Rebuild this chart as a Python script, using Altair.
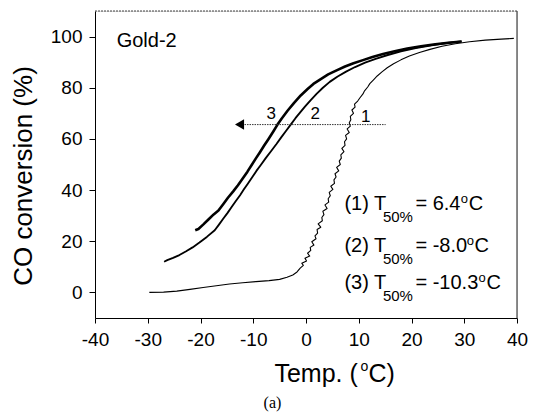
import altair as alt
import pandas as pd

# ---- data ----
c1_x = [-29.7, -27.0, -24.5, -22.0, -19.5, -17.0, -14.5, -12.0, -9.5, -7.0, -5.0, -3.6, -2.5, -1.7,
        -1.1, -0.5, -0.8, 0.1, -0.2, 0.7, 0.3, 0.9, 0.8, 1.5, 1.1, 1.9, 1.7, 2.2, 2.1, 2.8, 2.3, 3.1,
        3.0, 3.4, 3.2, 4.0, 3.6, 4.3, 4.2, 4.6, 4.4, 5.1, 4.7, 5.4, 5.3, 5.7, 5.5, 6.2, 5.8, 6.5, 6.3,
        6.7, 6.6, 7.2, 6.8, 7.4, 7.3, 7.7, 7.5, 8.2, 7.8, 8.4, 8.2, 8.5, 8.4, 9.0, 8.7, 9.3, 9.2, 9.8,
        10.2, 10.8, 11.1, 11.7, 12.1, 12.8, 13.5, 14.4, 15.4, 16.6, 18.0, 19.6, 21.5, 23.5, 25.8,
        28.3, 31.0, 34.0, 37.0, 39.4]
c1_y = [0.0, 0.1, 0.5, 1.2, 1.9, 2.6, 3.3, 3.8, 4.2, 4.6, 5.1, 5.9, 6.8, 8.0,
        9.5, 10.6, 11.4, 12.3, 13.4, 14.2, 15.3, 16.4, 17.6, 18.5, 19.8, 21.0, 22.1, 23.2, 24.6, 25.5,
        26.8, 28.0, 29.3, 30.4, 31.7, 32.8, 34.2, 35.3, 36.6, 37.8, 39.1, 40.3, 41.5, 42.6, 44.0, 45.1,
        46.4, 47.5, 48.9, 50.0, 51.3, 52.5, 53.8, 55.0, 56.3, 57.5, 58.9, 60.0, 61.4, 62.5, 63.9, 65.0,
        66.3, 67.5, 68.8, 70.0, 71.3, 72.4, 73.6, 74.8,
        76.0, 77.6, 78.8, 80.3, 81.6, 83.1, 84.6, 86.2, 87.8, 89.4, 90.9, 92.4, 93.8, 95.0, 96.2,
        97.2, 98.0, 98.6, 99.0, 99.3]

c2_x = [-26.9, -26.3, -25.2, -24.0, -22.8, -21.5, -20.2, -18.8, -17.3, -16.5, -15.7, -14.9, -14.1,
        -13.3, -12.5, -11.8, -11.0, -10.2, -9.4, -8.5, -7.6, -6.6, -5.6, -4.7, -3.8, -2.9, -2.0, -1.1,
        -0.2, 0.9, 2.0, 3.2, 4.5, 6.0, 7.6, 9.3, 11.2, 13.2, 15.5, 18.0, 20.8, 23.8, 26.8, 29.5]
c2_y = [12.0, 12.6, 13.5, 14.6, 16.0, 17.6, 19.5, 21.7, 24.3, 26.5, 28.8, 31.0, 33.4, 35.7, 38.0,
        40.2, 42.6, 45.0, 47.5, 50.0, 52.6, 55.3, 58.0, 60.6, 63.1, 65.6, 68.1, 70.4, 72.6, 75.2,
        77.6, 80.0, 82.3, 84.4, 86.3, 88.1, 89.8, 91.3, 92.8, 94.2, 95.5, 96.6, 97.5, 98.1]

c3_x = [-21.0, -20.4, -19.5, -18.5, -17.5, -16.6, -15.7, -14.8, -13.8, -12.9, -12.0, -11.1, -10.3,
        -9.5, -8.7, -7.9, -7.1, -6.2, -5.4, -4.6, -3.5, -2.3, -1.0, 0.3, 1.4, 2.8, 4.2, 5.8, 7.4, 9.0,
        10.8, 12.6, 14.6, 16.8, 19.2, 21.8, 24.5, 27.0, 29.5]
c3_y = [24.3, 24.8, 26.5, 28.5, 30.5, 32.0, 34.5, 37.0, 39.5, 41.9, 44.5, 47.2, 49.8, 52.4, 54.9,
        57.5, 60.0, 62.9, 65.6, 68.0, 71.0, 74.0, 77.0, 79.5, 81.5, 83.4, 85.2, 86.8, 88.3, 89.6,
        90.8, 92.0, 93.2, 94.3, 95.3, 96.2, 97.0, 97.6, 98.1]

curve_names = ["1", "2", "3"]
curve_widths = [1.1, 2.6, 2.6]

t50_labels = ["(1) T", "(2) T", "(3) T"]
t50_values = ["= 6.4", "= -8.0", "= -10.3"]
guide_y = 65.6          # dotted guide line level (%)
guide_x = [-12.6, 15.1]  # arrow start / end

# ---- layout helpers (pixel geometry of the reference) ----
W, H = 422, 307
XMIN, XMAX, YMIN, YMAX = -40, 40, -10, 110
PLOT_LEFT, PLOT_TOP = 95, 11
REF_W = 428  # reference plot width in px, used to map reference pixels to data


def px_x(px):
    return XMIN + (px - PLOT_LEFT) * (XMAX - XMIN) / REF_W


def px_y(py):
    return YMAX - (py - PLOT_TOP) * (YMAX - YMIN) / H


def rel_x(px):
    # reference page pixel -> pixel in this plot area (horizontal scale compensated)
    return (px - PLOT_LEFT) * W / REF_W


rows = []
for name, xs, ys in [("1", c1_x, c1_y), ("2", c2_x, c2_y), ("3", c3_x, c3_y)]:
    for i, (x, y) in enumerate(zip(xs, ys)):
        rows.append({"curve": name, "i": i, "temp": x, "conv": y})
df = pd.DataFrame(rows)

FONT = "Liberation Sans"
xscale = alt.Scale(domain=[XMIN, XMAX], nice=False, zero=False)
yscale = alt.Scale(domain=[YMIN, YMAX], nice=False, zero=False)

X = alt.X("temp:Q", scale=xscale, axis=alt.Axis(
    values=list(range(-40, 45, 5)), labelExpr="datum.value % 10 == 0 ? '' + datum.value : ''",
    title=None, grid=False, domainColor="black", tickColor="black", tickSize=5,
    labelFont=FONT, labelFontSize=19, labelColor="black", labelPadding=7,
    labelOverlap=False, labelFlush=False, labelBound=False))
Y = alt.Y("conv:Q", scale=yscale, axis=alt.Axis(
    values=list(range(0, 101, 10)), labelExpr="datum.value % 20 == 0 ? '' + datum.value : ''",
    title=None, grid=False, domainColor="black", tickColor="black", tickSize=6,
    labelFont=FONT, labelFontSize=19, labelColor="black", labelPadding=7,
    labelOverlap=False, labelFlush=False, labelBound=False))

lines = alt.Chart(df).mark_line(color="black", strokeJoin="round").encode(
    x=X, y=Y, detail="curve:N", order="i:Q",
    strokeWidth=alt.StrokeWidth("curve:N", scale=alt.Scale(domain=curve_names, range=curve_widths),
                                legend=None))

# frame: top (dotted) and right border
frame_top = alt.Chart(pd.DataFrame({"x": [XMIN], "x2": [XMAX], "y": [YMAX]})).mark_rule(
    color="#444", strokeWidth=1, strokeDash=[2, 1]).encode(
    x=alt.X("x:Q", scale=xscale), x2="x2:Q", y=alt.Y("y:Q", scale=yscale))
frame_right = alt.Chart(pd.DataFrame({"x": [XMAX], "y": [YMIN], "y2": [YMAX]})).mark_rule(
    color="#444", strokeWidth=1.2).encode(
    x=alt.X("x:Q", scale=xscale), y=alt.Y("y:Q", scale=yscale), y2="y2:Q")

guide = alt.Chart(pd.DataFrame({"x": [guide_x[0]], "x2": [guide_x[1]], "y": [guide_y]})).mark_rule(
    color="#333", strokeWidth=1, strokeDash=[1.5, 1]).encode(
    x=alt.X("x:Q", scale=xscale), x2="x2:Q", y=alt.Y("y:Q", scale=yscale))
arrow = alt.Chart(pd.DataFrame({"x": [guide_x[0]], "y": [guide_y]})).mark_point(
    shape="triangle-left", filled=True, color="black", size=110, opacity=1).encode(
    x=alt.X("x:Q", scale=xscale), y=alt.Y("y:Q", scale=yscale))


def txt(df_, size, align="left", baseline="alphabetic", font=FONT):
    return alt.Chart(df_).mark_text(align=align, baseline=baseline, font=font, fontSize=size,
                                    color="black").encode(
        x=alt.X("x:Q", scale=xscale), y=alt.Y("y:Q", scale=yscale), text="t:N")


gold = txt(pd.DataFrame({"x": [px_x(117)], "y": [px_y(47)], "t": ["Gold-2"]}), 20)
nums = txt(pd.DataFrame({"x": [px_x(273.7), px_x(318.3), px_x(369.5)],
                         "y": [px_y(119.3), px_y(119.3), px_y(121.7)],
                         "t": ["3", "2", "1"]}), 17, align="center")

base_py = [210, 252, 289]
o_px = [466, 472, 484]
main_rows, sub_rows, sup_rows = [], [], []
for k in range(3):
    b = base_py[k]
    main_rows.append({"x": px_x(348), "y": px_y(b), "t": t50_labels[k]})
    main_rows.append({"x": px_x(420), "y": px_y(b), "t": t50_values[k]})
    main_rows.append({"x": px_x(o_px[k] + 8), "y": px_y(b), "t": "C"})
    sub_rows.append({"x": px_x(387), "y": px_y(b + 12), "t": "50%"})
    sup_rows.append({"x": px_x(o_px[k]), "y": px_y(b - 7.5), "t": "o"})
t_main = txt(pd.DataFrame(main_rows), 20)
t_sub = txt(pd.DataFrame(sub_rows), 15)
t_sup = txt(pd.DataFrame(sup_rows), 13)


# axis titles and caption (pixel positions relative to plot area)
def ptxt(x, y, t, size, align="left", angle=0, font=FONT, baseline="alphabetic"):
    return alt.Chart(pd.DataFrame({"t": [t]})).mark_text(
        align=align, baseline=baseline, font=font, fontSize=size, color="black", angle=angle).encode(
        x=alt.value(x), y=alt.value(y), text="t:N")


xt1 = ptxt(rel_x(277), 382 - PLOT_TOP, "Temp. (", 25)
xt2 = ptxt(rel_x(277) + 86, 371 - PLOT_TOP, "o", 14)
xt3 = ptxt(rel_x(277) + 94, 382 - PLOT_TOP, "C)", 25)
yt = ptxt(23.5 - PLOT_LEFT, 176 - PLOT_TOP, "CO conversion (%)", 26, align="center", angle=270,
          baseline="middle")
cap = ptxt(rel_x(275), 408 - PLOT_TOP, "(a)", 16, align="center", font="Liberation Serif")

chart = alt.layer(lines, frame_top, frame_right, guide, arrow, gold, nums, t_main, t_sub, t_sup,
                  xt1, xt2, xt3, yt, cap).properties(
    width=W, height=H, autosize=alt.AutoSizeParams(type="none"),
    padding={"left": PLOT_LEFT - 8, "top": PLOT_TOP - 8, "right": 11, "bottom": 94}
).configure_view(strokeWidth=0).configure(background="white")

chart.save("out.html", embed_options={"renderer": "svg", "actions": False})
